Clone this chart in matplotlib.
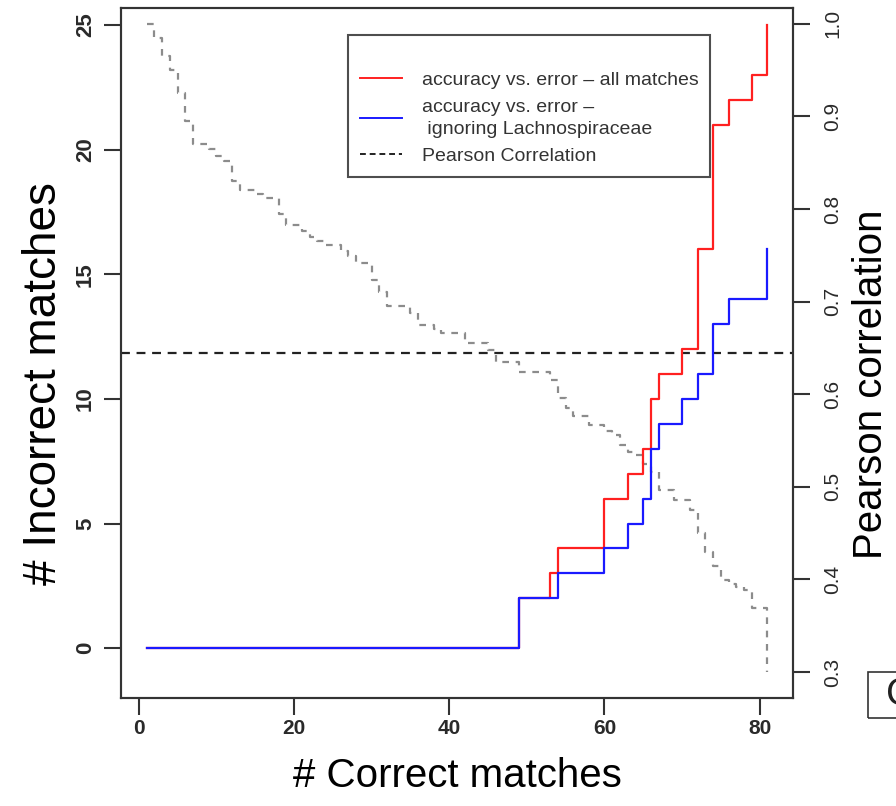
import matplotlib
matplotlib.use("Agg")
from matplotlib import pyplot as plt
from matplotlib.lines import Line2D
from matplotlib.patches import Rectangle

plt.rcParams["font.family"] = ["Liberation Sans", "DejaVu Sans"]

# number of correct matches (x) for every ranked prediction
correct = list(range(1, 82))

# incorrect matches - all matches (red)
incorrect_all = [0] * 48 + [2, 2, 2, 2, 3, 4, 4, 4, 4, 4, 4, 6, 6, 6, 7, 7, 8, 10, 11, 11, 11,
                            12, 12, 16, 16, 21, 21, 22, 22, 22, 23, 23, 25]

# incorrect matches - ignoring Lachnospiraceae (blue)
incorrect_ignoring = [0] * 48 + [2, 2, 2, 2, 2, 3, 3, 3, 3, 3, 3, 4, 4, 4, 5, 5, 6, 8, 9, 9, 9,
                                 10, 10, 11, 11, 13, 13, 14, 14, 14, 14, 14, 16]

# pearson correlation (right axis)
pearson = [1.00, 0.985, 0.965, 0.950, 0.925, 0.895, 0.870, 0.870, 0.865, 0.857,
           0.852, 0.830, 0.821, 0.821, 0.816, 0.812, 0.812, 0.795, 0.783, 0.783,
           0.776, 0.770, 0.765, 0.761, 0.761, 0.755, 0.749, 0.742, 0.742, 0.723,
           0.710, 0.695, 0.695, 0.695, 0.688, 0.675, 0.675, 0.670, 0.666, 0.666,
           0.666, 0.655, 0.655, 0.655, 0.648, 0.635, 0.635, 0.635, 0.624, 0.624,
           0.624, 0.624, 0.615, 0.596, 0.585, 0.576, 0.576, 0.567, 0.567, 0.560,
           0.556, 0.545, 0.538, 0.534, 0.525, 0.516, 0.497, 0.497, 0.486, 0.486,
           0.475, 0.450, 0.430, 0.415, 0.399, 0.395, 0.392, 0.389, 0.369, 0.369,
           0.300]

threshold = 0.645

fig = plt.figure(figsize=(8.96, 8.06), dpi=100)
ax = fig.add_axes([121 / 896, 1 - 698 / 806, 672 / 896, 690 / 806])
ax2 = ax.twinx()

ax2.step(correct, pearson, where="post", color="#8c8c8c", linestyle=(0, (3, 3)), linewidth=1.6)
ax2.axhline(threshold, color="#222222", linestyle=(0, (4, 3)), linewidth=1.6)

ax.set_zorder(ax2.get_zorder() + 1)
ax.patch.set_visible(False)
ax.step(correct, incorrect_all, where="post", color="#ff2020", linewidth=1.6)
ax.step(correct, incorrect_ignoring, where="post", color="#1a1aff", linewidth=1.6)

ax.set_xlim(-2.3, 84.3)
ax.set_ylim(-2.0, 25.68)
ax2.set_ylim(0.272, 1.017)

ax.set_xticks([0, 20, 40, 60, 80])
ax.set_yticks([0, 5, 10, 15, 20, 25])
ax2.set_yticks([0.3, 0.4, 0.5, 0.6, 0.7, 0.8, 0.9, 1.0])
ax2.set_yticklabels(["0.3", "0.4", "0.5", "0.6", "0.7", "0.8", "0.9", "1.0"])

for a in (ax, ax2):
    for s in a.spines.values():
        s.set_linewidth(1.5)
        s.set_color("#333333")
ax.tick_params(axis="x", length=12, width=1.5, pad=3, labelsize=15, color="#333333")
ax.tick_params(axis="y", length=12, width=1.5, pad=6, labelsize=16, color="#333333", labelrotation=90)
ax2.tick_params(axis="y", length=12, width=1.5, pad=10, labelsize=15, color="#333333", labelrotation=90)
for lab in ax.get_xticklabels() + ax.get_yticklabels():
    lab.set_fontweight("bold")
    lab.set_color("#2a2a2a")
for lab in ax.get_yticklabels() + ax2.get_yticklabels():
    lab.set_verticalalignment("center")
for lab in ax2.get_yticklabels():
    lab.set_color("#2a2a2a")

ax.set_xlabel("# Correct matches", fontsize=29, labelpad=14)
ax.set_ylabel("# Incorrect matches", fontsize=33)
ax2.set_ylabel("Pearson correlation", fontsize=29, rotation=90)
ax.yaxis.set_label_coords(-0.082, 0.455)
ax2.yaxis.set_label_coords(1.088, 0.455)

handles = [Line2D([], [], color="#ff2020", linewidth=1.4),
           Line2D([], [], color="#1a1aff", linewidth=1.4),
           Line2D([], [], color="#222222", linewidth=1.4, linestyle=(0, (3, 2)))]
labels = ["accuracy vs. error \u2013 all matches",
          "accuracy vs. error \u2013\n ignoring Lachnospiraceae",
          "Pearson Correlation"]
leg = ax.legend(handles, labels, loc="upper left", bbox_to_anchor=(348 / 896, 1 - 35 / 806),
                bbox_transform=fig.transFigure, fontsize=14, title=" ", title_fontsize=12,
                frameon=True, fancybox=False, handlelength=2.2, handletextpad=1.0,
                borderpad=0.6, labelspacing=0.5, borderaxespad=0)
leg.get_frame().set_edgecolor("#222222")
leg.get_frame().set_linewidth(1.5)
for t in leg.get_texts():
    t.set_color("#333333")
    t.set_linespacing(1.4)

# partial panel label at the right edge
fig.patches.append(Rectangle((868 / 896, 1 - 718 / 806), 0.2, 46 / 806, transform=fig.transFigure,
                             fill=False, edgecolor="#333333", linewidth=1.2))
fig.text(886 / 896, 1 - 695 / 806, "C", fontsize=28, va="center", ha="left",
         color="#222222")

fig.savefig("out.png", dpi=100)
